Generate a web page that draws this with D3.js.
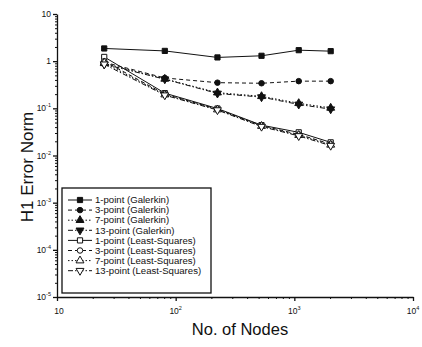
<!DOCTYPE html>
<html>
<head>
<meta charset="utf-8">
<script src="https://cdn.jsdelivr.net/npm/d3@7"></script>
<style>
body { margin: 0; background: #fff; }
text { font-family: "Liberation Sans", Arial, sans-serif; fill: #111; }
</style>
</head>
<body>
<div class="chart"></div>
<script>
// Data
const nodes = [25, 81, 225, 529, 1089, 2025];
const gal1 = [1.86, 1.65, 1.2, 1.3, 1.71, 1.63];
const gal3 = [0.95, 0.44, 0.35, 0.34, 0.377, 0.377];
const gal7 = [0.9, 0.42, 0.215, 0.18, 0.128, 0.102];
const gal13 = [0.86, 0.415, 0.207, 0.173, 0.121, 0.096];
const ls1 = [1.23, 0.21, 0.099, 0.044, 0.031, 0.019];
const ls3 = [1.0, 0.2, 0.096, 0.043, 0.028, 0.0175];
const ls7 = [0.93, 0.195, 0.094, 0.042, 0.027, 0.0168];
const ls13 = [0.86, 0.19, 0.092, 0.041, 0.026, 0.0162];

const seriesNames = ['1-point (Galerkin)', '3-point (Galerkin)', '7-point (Galerkin)', '13-point (Galerkin)',
    '1-point (Least-Squares)', '3-point (Least-Squares)', '7-point (Least-Squares)', '13-point (Least-Squares)'];
const seriesValues = [gal1, gal3, gal7, gal13, ls1, ls3, ls7, ls13];

const xTicks = [10, 100, 1000, 10000];
const xExps = ['', '2', '3', '4'];
const yTicks = [10, 1, 0.1, 0.01, 0.001, 0.0001, 0.00001];
const yExps = ['', '', '-1', '-2', '-3', '-4', '-5'];

// styles per series index (0..3 repeats for galerkin / least squares)
const dashes = [null, '4,3', '1.5,2', '5,2,1.5,2'];
const symbols = [d3.symbolSquare, d3.symbolCircle, d3.symbolTriangle, d3.symbolTriangle];

const width = 422, height = 347;
const svg = d3.select('.chart').append('svg')
    .attr('width', width).attr('height', height);

const x = d3.scaleLog().domain([10, 10000]).range([57, 413]);
const y = d3.scaleLog().domain([1e-5, 10]).range([297, 14]);

// minor tick values
function minors(lo, hi) {
    const out = [];
    for (let e = lo; e < hi; e++) {
        for (let k = 2; k < 10; k++) out.push(k * Math.pow(10, e));
    }
    return out;
}

// y axis
svg.append('g').attr('transform', 'translate(57,0)')
    .call(d3.axisLeft(y).tickValues(yTicks).tickFormat('').tickSize(4).tickSizeOuter(0))
    .call(g => g.selectAll('line,path').attr('stroke', '#111').attr('stroke-width', 1.3));
svg.append('g').attr('transform', 'translate(57,0)')
    .call(d3.axisLeft(y).tickValues(minors(-5, 1)).tickFormat('').tickSize(2).tickSizeOuter(0))
    .call(g => g.select('.domain').remove())
    .call(g => g.selectAll('line').attr('stroke', '#111'));

// x axis
svg.append('g').attr('transform', 'translate(0,297)')
    .call(d3.axisBottom(x).tickValues(xTicks).tickFormat('').tickSize(4).tickSizeOuter(0))
    .call(g => g.selectAll('line,path').attr('stroke', '#111').attr('stroke-width', 1.3));
svg.append('g').attr('transform', 'translate(0,297)')
    .call(d3.axisBottom(x).tickValues(minors(1, 4)).tickFormat('').tickSize(2).tickSizeOuter(0))
    .call(g => g.select('.domain').remove())
    .call(g => g.selectAll('line').attr('stroke', '#111'));

// tick labels with superscripts
function powLabel(sel, base, exp) {
    sel.append('tspan').text(base);
    if (exp) sel.append('tspan').text(exp).attr('font-size', 5.5).attr('dy', -4);
}
yTicks.forEach((v, i) => {
    const t = svg.append('text').attr('x', 51).attr('y', y(v) + 3)
        .attr('text-anchor', 'end').attr('font-size', 8.5);
    powLabel(t, v === 1 ? '1' : '10', yExps[i]);
});
xTicks.forEach((v, i) => {
    const t = svg.append('text').attr('x', x(v) + (xExps[i] ? 0 : 2)).attr('y', 314)
        .attr('text-anchor', 'middle').attr('font-size', 8.5);
    powLabel(t, '10', xExps[i]);
});

// axis titles
svg.append('text').attr('transform', 'translate(33,167) rotate(-90)')
    .attr('text-anchor', 'middle').attr('font-size', 17).text('H1 Error Norm');
svg.append('text').attr('x', 240).attr('y', 335)
    .attr('text-anchor', 'middle').attr('font-size', 16.5).text('No. of Nodes');

// lines and markers
const line = d3.line().x((d, i) => x(nodes[i])).y(d => y(d));

function drawMarker(g, idx, cx, cy) {
    const k = idx % 4;
    const open = idx >= 4;
    const sym = d3.symbol().type(symbols[k]).size(k === 1 ? 24 : 27);
    g.append('path').attr('d', sym())
        .attr('transform', `translate(${cx},${cy})` + (k === 3 ? ' rotate(180)' : ''))
        .attr('fill', open ? '#fff' : '#111')
        .attr('stroke', '#111').attr('stroke-width', 1);
}

seriesValues.forEach((vals, idx) => {
    const g = svg.append('g');
    g.append('path').datum(vals).attr('d', line)
        .attr('fill', 'none').attr('stroke', '#111').attr('stroke-width', 1)
        .attr('stroke-dasharray', dashes[idx % 4]);
    vals.forEach((v, i) => drawMarker(g, idx, x(nodes[i]), y(v)));
});

// legend
svg.append('rect').attr('x', 62).attr('y', 188).attr('width', 149).attr('height', 105)
    .attr('fill', '#fff').attr('stroke', '#111').attr('stroke-width', 1.3);
seriesNames.forEach((name, idx) => {
    const ly = 200 + idx * 10.1;
    const g = svg.append('g');
    g.append('line').attr('x1', 68).attr('x2', 92).attr('y1', ly).attr('y2', ly)
        .attr('stroke', '#111').attr('stroke-width', 1)
        .attr('stroke-dasharray', dashes[idx % 4]);
    drawMarker(g, idx, 80, ly);
    g.append('text').attr('x', 95).attr('y', ly + 3.2).attr('font-size', 9.6).text(name);
});
</script>
</body>
</html>
